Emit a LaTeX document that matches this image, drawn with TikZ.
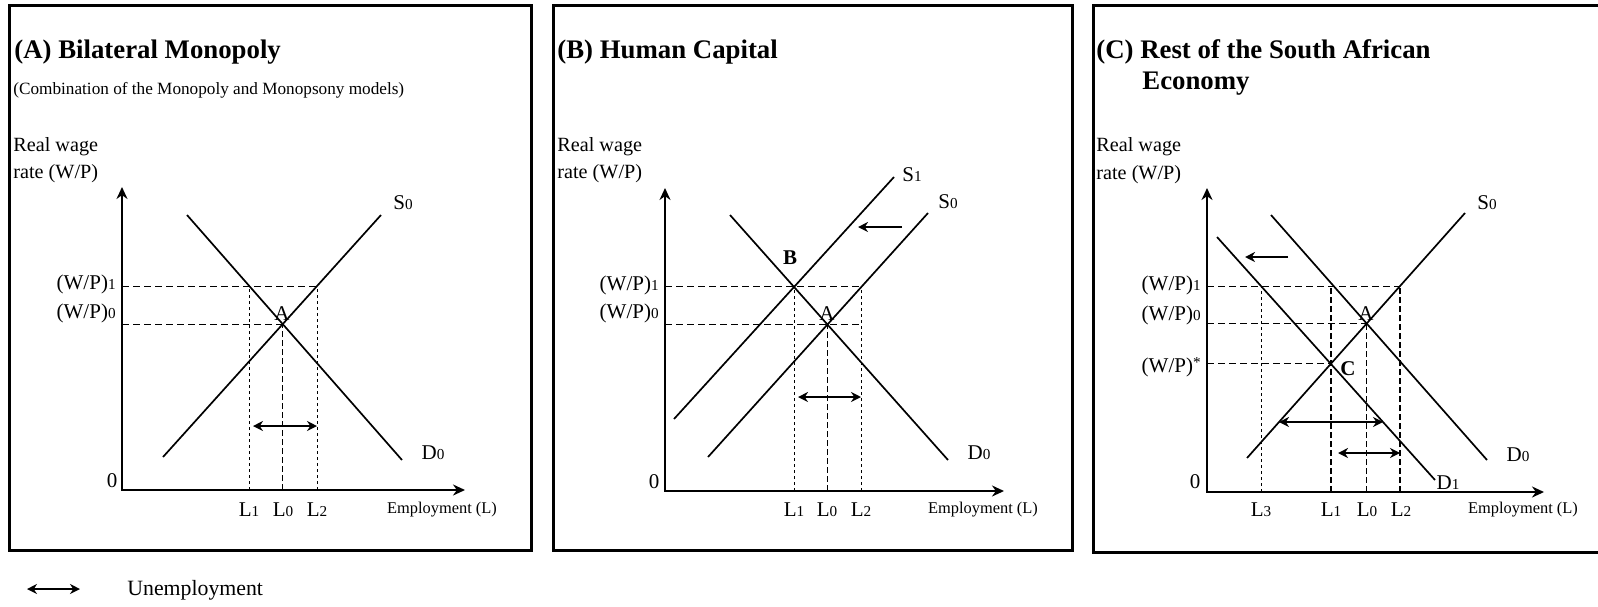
\documentclass[tikz,border=0pt]{standalone}
\usepackage{fontspec}
\setmainfont{Liberation Serif}
\usetikzlibrary{arrows.meta}
\newcommand{\sbs}[1]{{\fontsize{7.6}{8}\selectfont #1}}
\begin{document}
\begin{tikzpicture}[x=0.5pt,y=-0.5pt,
  panelbox/.style={line width=1.5pt},
  axisline/.style={line width=1pt,{Stealth[length=6pt,width=5.5pt]}-{Stealth[length=6pt,width=5.5pt]}},
  curve/.style={line width=0.85pt},
  hdash/.style={line width=0.5pt,dash pattern=on 3.5pt off 2pt},
  vdash/.style={line width=0.45pt,dash pattern=on 1.5pt off 1.5pt},
  vdashmid/.style={line width=0.7pt,dash pattern=on 3pt off 1.5pt},
  unemp/.style={line width=0.8pt,{Stealth[length=5pt,width=5pt]}-{Stealth[length=5pt,width=5pt]}},
  shiftarrow/.style={line width=0.8pt,-{Stealth[length=5pt,width=5pt]}},
  paneltitle/.style={font=\fontsize{13.4}{17}\selectfont\bfseries, anchor=west, inner sep=0pt},
  subtitle/.style={font=\fontsize{8.6}{10}\selectfont, anchor=west, inner sep=0pt},
  axlab/.style={font=\fontsize{10.1}{12}\selectfont, anchor=west, inner sep=0pt},
  lab/.style={font=\fontsize{10.5}{12}\selectfont, inner sep=0pt},
  blab/.style={font=\fontsize{10.5}{12}\selectfont\bfseries, inner sep=0pt},
  emp/.style={font=\fontsize{8.2}{10}\selectfont, inner sep=0pt},
]
\useasboundingbox (0,0) rectangle (1598,606);

% ---------- panel frames ----------
\draw[panelbox] (9,5) rectangle (531,550);
\draw[panelbox] (553,5) rectangle (1072,550);
\draw[panelbox] (1598,5) -- (1093,5) -- (1093,552) -- (1598,552);

% ================= Panel A =================
\node[paneltitle] (tA) at (14,52) {(A) Bilateral Monopoly};
\node[subtitle] (sA) at (13,90) {(Combination of the Monopoly and Monopsony models)};
\node[axlab] (yA1) at (13,147) {Real wage};
\node[axlab] (yA2) at (13,174) {rate (W/P)};

\coordinate (OA) at (122,490);
\coordinate (YA) at (122,187);
\coordinate (XA) at (465,490);
\draw[axisline] (YA) -- (OA) -- (XA);

\coordinate (AS0a) at (163,457); \coordinate (AS0b) at (381,215);
\coordinate (AD0a) at (187,215); \coordinate (AD0b) at (402,460);
\draw[curve] (AS0a) -- (AS0b);
\draw[curve] (AD0a) -- (AD0b);
\coordinate (AA) at (282.7,324.1);
\coordinate (AL1) at (249.3,286);
\coordinate (AL2) at (317,286);

\draw[hdash] (OA |- AL1) -- (AL2);
\draw[hdash] (OA |- AA) -- (AA);
\draw[vdash] (AL1 |- OA) -- (AL1);
\draw[vdashmid] (AA |- OA) -- (AA);
\draw[vdash] (AL2 |- OA) -- (AL2);

\coordinate (AU1) at (253,426); \coordinate (AU2) at (317,426);
\draw[unemp] (AU1) -- (AU2);

\node[lab] (lAS0) at (403,203) {S\sbs{0}};
\node[lab] (lAD0) at (433,453) {D\sbs{0}};
\node[lab] (lAA) at (282,314) {A};
\node[lab] (lA0) at (112,481) {0};
\node[lab,anchor=east] (lAW1) at (116,284) {(W/P)\sbs{1}};
\node[lab,anchor=east] (lAW0) at (116,313) {(W/P)\sbs{0}};
\node[lab] (lAL1) at (249,510) {L\sbs{1}};
\node[lab] (lAL0) at (283,510) {L\sbs{0}};
\node[lab] (lAL2) at (317,510) {L\sbs{2}};
\node[emp] (lAE) at (442,510) {Employment (L)};

% ================= Panel B =================
\node[paneltitle] (tB) at (557,52) {(B) Human Capital};
\node[axlab] (yB1) at (557,147) {Real wage};
\node[axlab] (yB2) at (557,174) {rate (W/P)};

\coordinate (OB) at (665,491);
\coordinate (YB) at (665,188);
\coordinate (XB) at (1004,491);
\draw[axisline] (YB) -- (OB) -- (XB);

\coordinate (BS1a) at (674,419); \coordinate (BS1b) at (894,177);
\coordinate (BS0a) at (708,457); \coordinate (BS0b) at (928,213);
\coordinate (BD0a) at (730,215); \coordinate (BD0b) at (948,460);
\draw[curve] (BS1a) -- (BS1b);
\draw[curve] (BS0a) -- (BS0b);
\draw[curve] (BD0a) -- (BD0b);
\coordinate (BB) at (794,286.9);
\coordinate (BA) at (827.4,324.5);
\coordinate (BL2) at (861.4,286.9);

\draw[hdash] (OB |- BB) -- (BL2);
\draw[hdash] (OB |- BA) -- (BL2 |- BA);
\draw[vdash] (BB |- OB) -- (BB);
\draw[vdashmid] (BA |- OB) -- (BA);
\draw[vdash] (BL2 |- OB) -- (BL2);

\coordinate (BU1) at (798,397); \coordinate (BU2) at (861,397);
\draw[unemp] (BU1) -- (BU2);
\coordinate (BSh1) at (902,227); \coordinate (BSh2) at (858,227);
\draw[shiftarrow] (BSh1) -- (BSh2);

\node[lab] (lBS1) at (912,175) {S\sbs{1}};
\node[lab] (lBS0) at (948,202) {S\sbs{0}};
\node[lab] (lBD0) at (979,453) {D\sbs{0}};
\node[blab] (lBB) at (790,258) {B};
\node[lab] (lBA) at (827,314) {A};
\node[lab] (lB0) at (654,482) {0};
\node[lab,anchor=east] (lBW1) at (659,285) {(W/P)\sbs{1}};
\node[lab,anchor=east] (lBW0) at (659,313) {(W/P)\sbs{0}};
\node[lab] (lBL1) at (794,510) {L\sbs{1}};
\node[lab] (lBL0) at (827,510) {L\sbs{0}};
\node[lab] (lBL2) at (861,510) {L\sbs{2}};
\node[emp] (lBE) at (983,510) {Employment (L)};

% ================= Panel C =================
\node[paneltitle] (tC1) at (1096,52) {(C) Rest of the South African};
\node[paneltitle] (tC2) at (1142,84) {Economy};
\node[axlab] (yC1) at (1096,147) {Real wage};
\node[axlab] (yC2) at (1096,175) {rate (W/P)};

\coordinate (OC) at (1207,492);
\coordinate (YC) at (1207,188);
\coordinate (XC) at (1544,492);
\draw[axisline] (YC) -- (OC) -- (XC);

\coordinate (CS0a) at (1247,458); \coordinate (CS0b) at (1465,213);
\coordinate (CD0a) at (1271,215); \coordinate (CD0b) at (1487,460);
\coordinate (CD1a) at (1217,237); \coordinate (CD1b) at (1435,480);
\draw[curve] (CS0a) -- (CS0b);
\draw[curve] (CD0a) -- (CD0b);
\draw[curve] (CD1a) -- (CD1b);
\coordinate (CA) at (1366.7,323.5);
\coordinate (CC) at (1330.8,363.8);
\coordinate (CL3) at (1261,286);
\coordinate (CL1) at (1331,286);
\coordinate (CL2) at (1400,286);

\draw[hdash] (OC |- CL2) -- (CL2);
\draw[hdash] (OC |- CA) -- (CA);
\draw[hdash] (OC |- CC) -- (CC);
\draw[vdash] (CL3 |- OC) -- (CL3);
\draw[vdashmid] (CL1 |- OC) -- (CL1);
\draw[vdashmid] (CA |- OC) -- (CA);
\draw[vdashmid] (CL2 |- OC) -- (CL2);

\coordinate (CU1) at (1279,422); \coordinate (CU2) at (1383,422);
\draw[unemp] (CU1) -- (CU2);
\coordinate (CU3) at (1338,453); \coordinate (CU4) at (1400,453);
\draw[unemp] (CU3) -- (CU4);
\coordinate (CSh1) at (1288,257); \coordinate (CSh2) at (1245,257);
\draw[shiftarrow] (CSh1) -- (CSh2);

\node[lab] (lCS0) at (1487,203) {S\sbs{0}};
\node[lab] (lCD0) at (1518,455) {D\sbs{0}};
\node[lab] (lCD1) at (1448,483) {D\sbs{1}};
\node[lab] (lCA) at (1366,314) {A};
\node[blab] (lCC) at (1348,369) {C};
\node[lab] (lC0) at (1195,482) {0};
\node[lab,anchor=east] (lCW1) at (1201,285) {(W/P)\sbs{1}};
\node[lab,anchor=east] (lCW0) at (1201,315) {(W/P)\sbs{0}};
\node[lab,anchor=east] (lCWs) at (1201,367) {(W/P)\raisebox{2.2pt}{\sbs{*}}};
\node[lab] (lCL3) at (1261,510) {L\sbs{3}};
\node[lab] (lCL1) at (1331,510) {L\sbs{1}};
\node[lab] (lCL0) at (1367,510) {L\sbs{0}};
\node[lab] (lCL2) at (1401,510) {L\sbs{2}};
\node[emp] (lCE) at (1523,510) {Employment (L)};

% ================= Legend =================
\coordinate (LG1) at (27,589); \coordinate (LG2) at (80,589);
\draw[unemp,line width=1.1pt] (LG1) -- (LG2);
\node[font=\fontsize{10.9}{12}\selectfont, anchor=west, inner sep=0pt] (lLeg) at (127,590) {Unemployment};
\end{tikzpicture}
\end{document}
